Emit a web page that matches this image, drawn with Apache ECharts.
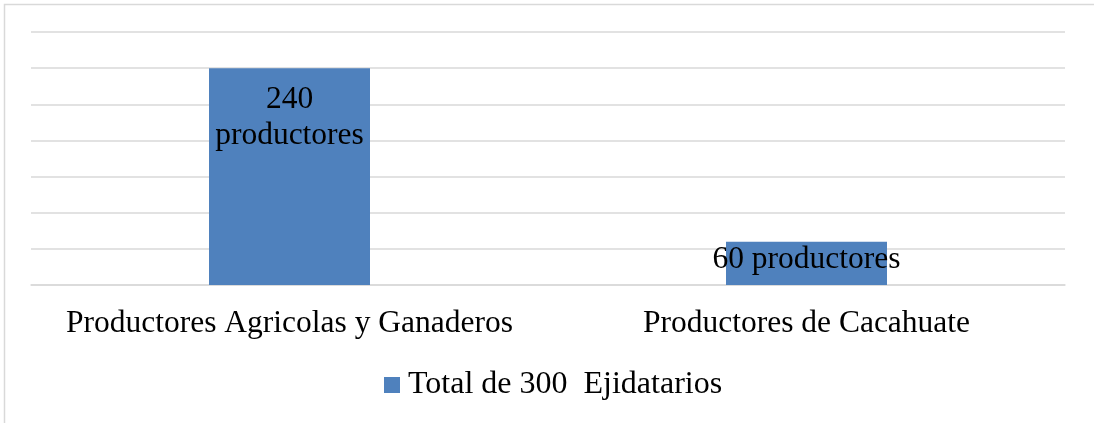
<!DOCTYPE html>
<html>
<head>
<meta charset="utf-8">
<script src="https://cdn.jsdelivr.net/npm/echarts@6/dist/echarts.min.js"></script>
<style>
html,body{margin:0;padding:0;background:#fff;}
#chart{width:1094px;height:423px;}
</style>
</head>
<body>
<div id="chart"></div>
<script>
const categories = ['Productores Agricolas y Ganaderos', 'Productores de Cacahuate'];
const seriesName = 'Total de 300  Ejidatarios';
const values = [240, 48];
const barLabels = ['240\nproductores', '60 productores'];

const FONT = '"Liberation Serif", "Times New Roman", serif';
const chart = echarts.init(document.getElementById('chart'), null, {renderer: 'canvas'});
chart.setOption({
  backgroundColor: '#fff',
  animation: false,
  graphic: [{
    type: 'rect', left: 2, top: 2,
    shape: {width: 1091, height: 440},
    style: {fill: 'none', stroke: '#d9d9d9', lineWidth: 1.5}
  }],
  legend: {
    data: [seriesName],
    top: 364,
    left: 379,
    itemWidth: 16, itemHeight: 16, itemGap: 8,
    icon: 'rect',
    textStyle: {fontFamily: FONT, fontSize: 32, color: '#000', padding: [0, 0, 0, 3]}
  },
  grid: {left: 31, right: 29, top: 32, bottom: 138, containLabel: false},
  xAxis: {
    type: 'category',
    data: categories,
    axisLine: {show: true, lineStyle: {color: '#d9d9d9', width: 1.5}},
    axisTick: {show: false},
    axisLabel: {fontFamily: FONT, fontSize: 31.5, color: '#000', margin: 23, interval: 0}
  },
  yAxis: {
    type: 'value', min: 0, max: 280, interval: 40,
    axisLabel: {show: false},
    axisLine: {show: false}, axisTick: {show: false},
    splitLine: {lineStyle: {color: '#d9d9d9', width: 1.5}}
  },
  series: [{
    name: seriesName,
    type: 'bar',
    barWidth: 161,
    itemStyle: {color: '#4f81bd'},
    data: values.map((v, i) => ({
      value: v,
      label: i === 0
        ? {show: true, position: 'insideTop', distance: 14, formatter: barLabels[i], lineHeight: 36}
        : {show: true, position: 'inside', offset: [0, -4], formatter: barLabels[i], lineHeight: 36}
    })),
    label: {fontFamily: FONT, fontSize: 31.5, color: '#000'}
  }]
});
</script>
</body>
</html>
